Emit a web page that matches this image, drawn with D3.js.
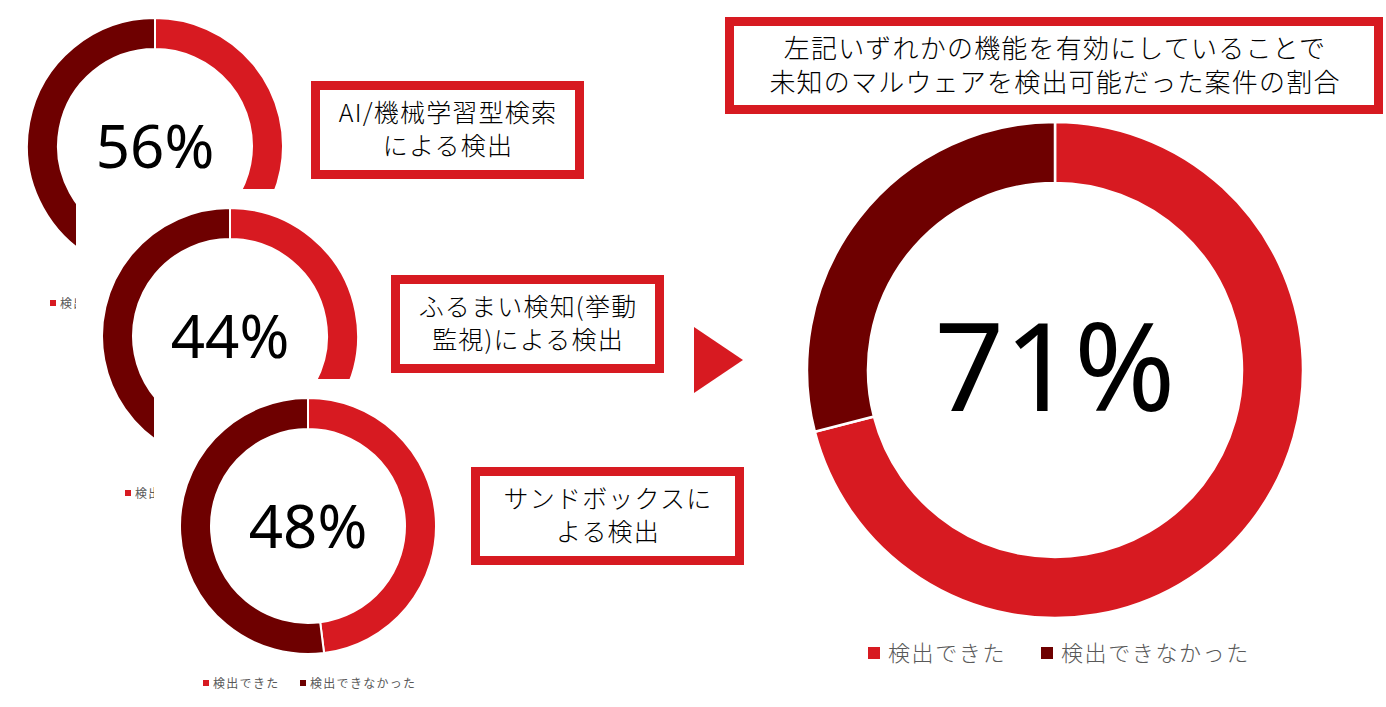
<!DOCTYPE html>
<html>
<head>
<meta charset="utf-8">
<script src="https://cdn.jsdelivr.net/npm/d3@7"></script>
<style>
  body { margin: 0; background: #fff; }
  svg { display: block; }
</style>
</head>
<body>
<div id="chart"></div>
<script>
// values
const seriesNames = ["検出できた", "検出できなかった"];
const seriesColors = ["#d71a21", "#6e0000"];
const featureRates = [56, 44, 48];
const featureLabels = [
    ["AI/機械学習型検索", "による検出"],
    ["ふるまい検知(挙動", "監視)による検出"],
    ["サンドボックスに", "よる検出"]
];
const totalRate = 71;
const totalTitle = ["左記いずれかの機能を有効にしていることで", "未知のマルウェアを検出可能だった案件の割合"];

function main() {
    const width = 1386;
    const height = 707;
    const jp = "'Noto Sans CJK JP', 'Noto Sans', sans-serif";
    const num = "'Noto Sans', 'Open Sans', sans-serif";

    const svg = d3.select("#chart")
        .append("svg")
        .attr("width", width)
        .attr("height", height)

    const defs = svg.append("defs")
    const pie = d3.pie().sort(null).value(d => d)
    const color = d3.scaleOrdinal().domain([0, 1]).range(seriesColors)

    // small donuts, each sits on its own white chart area that overlaps the previous one
    const small = [
        { cx: 155, cy: 146, box: [311, 81] },
        { cx: 230, cy: 336, box: [391, 275] },
        { cx: 308, cy: 526, box: [471, 467] }
    ]
    const smallArc = d3.arc().innerRadius(97).outerRadius(128)

    small.forEach((s, i) => {
        const g = svg.append("g").attr("transform", `translate(${s.cx},${s.cy})`)

        g.append("rect")
            .attr("x", -154).attr("y", -147)
            .attr("width", 308).attr("height", 322)
            .attr("fill", "#fff")

        g.selectAll("path")
            .data(pie([featureRates[i], 100 - featureRates[i]]))
            .join("path")
            .attr("d", smallArc)
            .attr("fill", (d, j) => color(j))
            .attr("stroke", "#fff")
            .attr("stroke-width", 2)

        g.append("text")
            .attr("text-anchor", "middle")
            .attr("y", 22)
            .attr("font-family", num)
            .attr("font-size", 60)
            .attr("fill", "#000")
            .text(featureRates[i] + "%")

        // legend: the next chart area hides most of it for the upper two donuts
        const next = small[i + 1]
        const names = next ? seriesNames.slice(0, 1) : seriesNames
        const lg = g.append("g").attr("transform", "translate(-105,157)")
        if (next) {
            const cut = next.cx - 154 - s.cx + 105
            defs.append("clipPath").attr("id", "legclip" + i)
                .append("rect")
                .attr("x", -5).attr("y", -15)
                .attr("width", cut + 5).attr("height", 30)
            lg.attr("clip-path", `url(#legclip${i})`)
        }
        const items = lg.selectAll("g")
            .data(names)
            .join("g")
            .attr("transform", (d, j) => `translate(${j * 97},0)`)
        items.append("rect")
            .attr("x", 0).attr("y", -3)
            .attr("width", 6).attr("height", 6)
            .attr("fill", (d, j) => color(j))
        items.append("text")
            .attr("x", 10).attr("y", 4.5)
            .attr("font-family", jp)
            .attr("font-size", 12)
            .attr("letter-spacing", 1.3)
            .attr("fill", "#595959")
            .text(d => d)
    })

    // label boxes next to the small donuts
    small.forEach((s, i) => {
        const bx = s.box[0], by = s.box[1]
        svg.append("rect")
            .attr("x", bx + 4.5).attr("y", by + 4.5)
            .attr("width", 264).attr("height", 89)
            .attr("fill", "#fff")
            .attr("stroke", seriesColors[0])
            .attr("stroke-width", 9)
        svg.append("text")
            .attr("text-anchor", "middle")
            .attr("font-family", jp)
            .attr("font-weight", 300)
            .attr("font-size", 25)
            .attr("letter-spacing", 1.2)
            .attr("fill", "#000")
            .selectAll("tspan")
            .data(featureLabels[i])
            .join("tspan")
            .attr("x", bx + 137)
            .attr("y", (d, j) => by + 41 + j * 33)
            .text(d => d)
    })

    // arrow
    svg.append("path")
        .attr("d", d3.line()([[694, 327], [743, 360], [694, 393]]) + "Z")
        .attr("fill", seriesColors[0])

    // title box of the large donut
    svg.append("rect")
        .attr("x", 729.5).attr("y", 21.5)
        .attr("width", 649).attr("height", 88)
        .attr("fill", "#fff")
        .attr("stroke", seriesColors[0])
        .attr("stroke-width", 9)
    svg.append("text")
        .attr("text-anchor", "middle")
        .attr("font-family", jp)
        .attr("font-weight", 300)
        .attr("font-size", 26)
        .attr("letter-spacing", 1.2)
        .attr("fill", "#000")
        .selectAll("tspan")
        .data(totalTitle)
        .join("tspan")
        .attr("x", 1055)
        .attr("y", (d, j) => 58 + j * 34)
        .text(d => d)

    // large donut
    const big = svg.append("g").attr("transform", "translate(1055,370)")
    const bigArc = d3.arc().innerRadius(187).outerRadius(248)
    big.selectAll("path")
        .data(pie([totalRate, 100 - totalRate]))
        .join("path")
        .attr("d", bigArc)
        .attr("fill", (d, j) => color(j))
        .attr("stroke", "#fff")
        .attr("stroke-width", 2.5)
    big.append("text")
        .attr("text-anchor", "middle")
        .attr("y", 41)
        .attr("font-family", num)
        .attr("font-size", 122)
        .attr("fill", "#000")
        .text(totalRate + "%")

    const bl = svg.append("g").attr("transform", "translate(868,653)")
    const bItems = bl.selectAll("g")
        .data(seriesNames)
        .join("g")
        .attr("transform", (d, j) => `translate(${j * 173},0)`)
    bItems.append("rect")
        .attr("x", 0).attr("y", -6)
        .attr("width", 12).attr("height", 12)
        .attr("fill", (d, j) => color(j))
    bItems.append("text")
        .attr("x", 20).attr("y", 8)
        .attr("font-family", jp)
        .attr("font-weight", 300)
        .attr("font-size", 22)
        .attr("letter-spacing", 1.6)
        .attr("fill", "#595959")
        .text(d => d)
}
main();
</script>
</body>
</html>
